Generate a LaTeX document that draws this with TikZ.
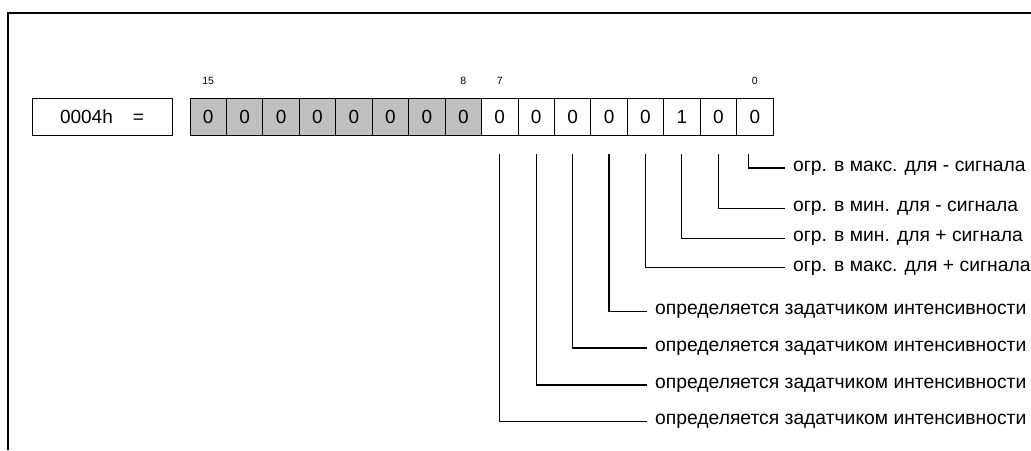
\documentclass[tikz,border=0pt]{standalone}
\usepackage{fontspec}
\setmainfont{Liberation Sans}
\usetikzlibrary{positioning}
\definecolor{grisbit}{RGB}{192,192,192}

\begin{document}
\begin{tikzpicture}[x=1pt,y=-1pt,
    bitcell/.style={draw, line width=0.8pt, minimum width=36.44pt, minimum height=36.7pt,
      inner sep=0pt, outer sep=0pt, font=\fontsize{19}{21}\selectfont},
    hibit/.style={fill=grisbit},
    bitnum/.style={inner sep=0pt, font=\fontsize{10.5}{12}\selectfont},
    bitlbl/.style={anchor=west, inner xsep=8pt, inner ysep=0pt, font=\fontsize{19.3}{21}\selectfont},
    lead/.style={line width=1.1pt}]
                  \useasboundingbox (0,0) rectangle (1031,450);

                  % Cadre
                  \draw[line width=1.6pt] (8,450) -- (8,13) -- (1031,13);

                  % Valeur
                  \node[bitcell, minimum width=140pt] (val) at (102,116.7) {0004h\hspace{20pt}=\hspace{9pt}};

                  % Cases des bits
                  \node[bitcell, hibit] (b15) at (208.2,116.7) {0};
                  \foreach \i in {14,...,8} {
                          \pgfmathtruncatemacro\prev{\i+1}
                          \node[bitcell, hibit, right=0pt of b\prev] (b\i) {0};
                      }
                  \foreach \i/\v in {7/0, 6/0, 5/0, 4/0, 3/0, 2/1, 1/0, 0/0} {
                          \pgfmathtruncatemacro\prev{\i+1}
                          \node[bitcell, right=0pt of b\prev] (b\i) {\v};
                      }

                  % Numeros des bits
                  \foreach \i in {15, 8, 7, 0} {
                          \node[bitnum, anchor=south, above=14pt of b\i] (n\i) {\i};
                      }

                  % Signification des bits
                  \foreach \i/\x/\y/\txt in {0/785/168/{огр. в макс. для - сигнала},
                          1/785/208.3/{огр. в мин. для - сигнала},
                          2/785/238.3/{огр. в мин. для + сигнала},
                          3/785/267.7/{огр. в макс. для + сигнала},
                          4/647/311.7/{определяется задатчиком интенсивности},
                          5/647/348/{определяется задатчиком интенсивности},
                          6/647/385/{определяется задатчиком интенсивности},
                          7/647/421.5/{определяется задатчиком интенсивности}} {
                          \node[bitlbl] (t\i) at (\x,\y) {\txt};
                      }

                  % Renvois
                  \draw[lead] ([xshift=-6.5pt, yshift=-19pt]b0.south) |- (t0.west);
                  \foreach \i in {1,...,7} {
                          \draw[lead] ([yshift=-19pt]b\i.south) |- (t\i.west);
                      }
              \end{tikzpicture}
\end{document}
